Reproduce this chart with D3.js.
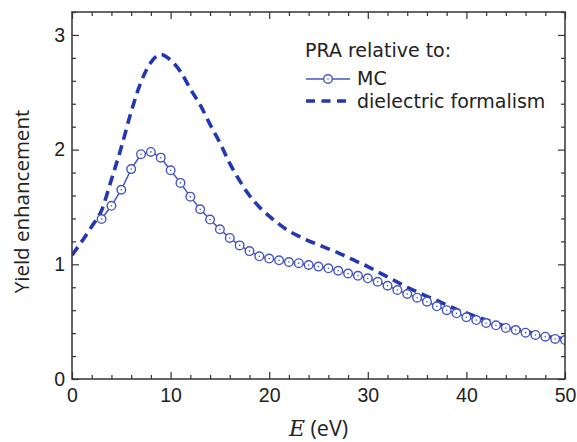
<!DOCTYPE html>
<html><head><meta charset="utf-8">
<script src="https://cdn.jsdelivr.net/npm/d3@7"></script>
<style>body{margin:0;background:#fff;} text{fill:#222;}</style>
</head><body>
<svg id="c" width="577" height="442"></svg>
<script>
const mcE = d3.range(3, 51);
const mcY = [1.395,1.51,1.65,1.83,1.96,1.98,1.93,1.82,1.71,1.59,1.48,1.39,1.305,1.23,1.165,1.115,1.07,
  1.05,1.035,1.02,1.01,0.994,0.98,0.965,0.944,0.92,0.90,0.878,0.848,0.813,0.776,0.741,0.709,0.674,0.634,0.60,
  0.573,0.538,0.514,0.488,0.468,0.445,0.427,0.404,0.384,0.369,0.349,0.34];
const dfE = d3.range(0, 51);
const dfY = [1.08,1.20,1.33,1.47,1.74,2.02,2.33,2.59,2.76,2.83,2.78,2.68,2.53,2.39,2.22,2.06,1.88,1.73,1.60,1.50,
  1.42,1.35,1.29,1.245,1.205,1.17,1.135,1.10,1.06,1.02,0.98,0.935,0.89,0.845,0.80,0.76,0.72,0.685,0.645,0.607,
  0.575,0.545,0.515,0.487,0.46,0.435,0.415,0.395,0.375,0.36,0.35];
const xTicks = [0,10,20,30,40,50];
const yTicks = [0,1,2,3];
const legendTitle = "PRA relative to:";
const seriesNames = ["MC","dielectric formalism"];

const svg = d3.select("#c");
const L=72, R=565, T=12, B=379;
const x = d3.scaleLinear().domain([0,50]).range([L,R]);
const y = d3.scaleLinear().domain([0,3.2]).range([B,T]);
const mcCol = "#4656c0", dfCol = "#2338b0";
const LF = "'DejaVu Sans', Verdana, sans-serif";
const AF = "'Open Sans', 'Liberation Sans', Arial, sans-serif";
const TF = "'Liberation Sans', Arial, sans-serif";
const LS = 19;

const g = svg.append("g");
svg.append("clipPath").attr("id","cp").append("rect").attr("x",L).attr("y",T).attr("width",R-L).attr("height",B-T);
const plot = g.append("g").attr("clip-path","url(#cp)");
const line = d3.line().x(d=>x(d[0])).y(d=>y(d[1])).curve(d3.curveMonotoneX);
plot.append("path").datum(dfE.map((e,i)=>[e,dfY[i]])).attr("d",line)
  .attr("fill","none").attr("stroke",dfCol).attr("stroke-width",3.6).attr("stroke-dasharray","10,6");
const mcData = mcE.map((e,i)=>[e,mcY[i]]);
plot.append("path").datum(mcData).attr("d",d3.line().x(d=>x(d[0])).y(d=>y(d[1])))
  .attr("fill","none").attr("stroke",mcCol).attr("stroke-width",1.5);
plot.selectAll("circle.m").data(mcData).join("circle").attr("class","m")
  .attr("cx",d=>x(d[0])).attr("cy",d=>y(d[1])).attr("r",4.3)
  .attr("fill","#fff").attr("stroke",mcCol).attr("stroke-width",1.4);
plot.selectAll("circle.d").data(mcData).join("circle").attr("class","d")
  .attr("cx",d=>x(d[0])).attr("cy",d=>y(d[1])).attr("r",0.8).attr("fill",mcCol);

// axes
const ax = "#333";
g.append("g").attr("transform",`translate(0,${B})`)
  .call(d3.axisBottom(x).tickValues(xTicks).tickSize(-7).tickPadding(9).tickFormat(d3.format("d")));
g.append("g").attr("transform",`translate(0,${T})`)
  .call(d3.axisTop(x).tickValues(xTicks).tickSize(-7).tickFormat(""));
g.append("g").attr("transform",`translate(${L},0)`)
  .call(d3.axisLeft(y).tickValues(yTicks).tickSize(-7).tickPadding(7).tickFormat(d3.format("d")));
g.append("g").attr("transform",`translate(${R},0)`)
  .call(d3.axisRight(y).tickValues(yTicks).tickSize(-7).tickFormat(""));
const xMinor = d3.range(0,51,2).filter(v=>v%10!==0);
const yMinor = d3.range(0,3.21,0.2).filter(v=>Math.abs(v-Math.round(v))>1e-6);
g.append("g").attr("transform",`translate(0,${B})`).call(d3.axisBottom(x).tickValues(xMinor).tickSize(-4).tickFormat(""));
g.append("g").attr("transform",`translate(0,${T})`).call(d3.axisTop(x).tickValues(xMinor).tickSize(-4).tickFormat(""));
g.append("g").attr("transform",`translate(${L},0)`).call(d3.axisLeft(y).tickValues(yMinor).tickSize(-4).tickFormat(""));
g.append("g").attr("transform",`translate(${R},0)`).call(d3.axisRight(y).tickValues(yMinor).tickSize(-4).tickFormat(""));
g.selectAll(".domain").remove();
g.selectAll(".tick line").attr("stroke",ax).attr("stroke-width",1.2);
g.selectAll(".tick text").style("font-size","19.5px").style("fill","#222").style("font-family",TF);
g.append("rect").attr("x",L).attr("y",T).attr("width",R-L).attr("height",B-T)
  .attr("fill","none").attr("stroke",ax).attr("stroke-width",1.5);

// axis labels
svg.append("text").attr("transform",`translate(29,${(T+B)/2+6}) rotate(-90)`).attr("text-anchor","middle")
  .style("font-size","20.5px").style("font-family",AF).text("Yield enhancement");
const xl = svg.append("text").attr("x",(L+R)/2).attr("y",436).attr("text-anchor","middle")
  .style("font-size","21.5px").style("font-family",AF);
xl.append("tspan").style("font-family","'DejaVu Serif', 'Liberation Serif', serif").style("font-style","italic").style("font-size","22px").text("E");
xl.append("tspan").text(" (eV)");

// legend
const leg = svg.append("g").style("font-family",LF).style("font-size",LS+"px");
leg.append("text").attr("x",305).attr("y",57).text(legendTitle);
leg.append("line").attr("x1",306).attr("x2",350).attr("y1",79).attr("y2",79).attr("stroke",mcCol).attr("stroke-width",1.5);
leg.append("circle").attr("cx",328).attr("cy",79).attr("r",4.3).attr("fill","#fff").attr("stroke",mcCol).attr("stroke-width",1.4);
leg.append("circle").attr("cx",328).attr("cy",79).attr("r",0.8).attr("fill",mcCol);
leg.append("text").attr("x",357).attr("y",85).text(seriesNames[0]);
leg.append("line").attr("x1",306).attr("x2",350).attr("y1",101).attr("y2",101).attr("stroke",dfCol).attr("stroke-width",3.6).attr("stroke-dasharray","9,6.5");
leg.append("text").attr("x",357).attr("y",107.5).text(seriesNames[1]);
</script>
</body></html>
